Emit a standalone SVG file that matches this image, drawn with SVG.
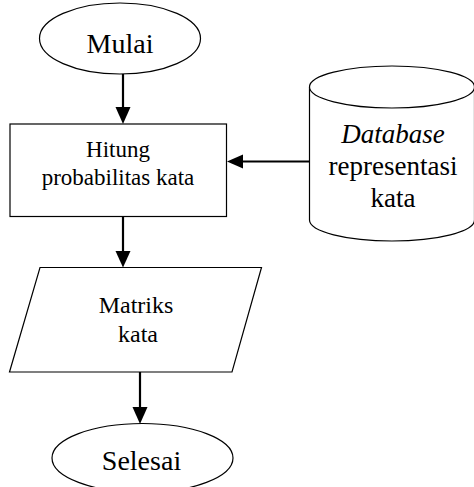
<svg xmlns="http://www.w3.org/2000/svg" width="474" height="487" viewBox="0 0 474 487">
<style>
.s{fill:#fff;stroke:#000;stroke-width:1.2}
.t{font-family:"Liberation Serif","Times New Roman",serif;fill:#000;text-anchor:middle}
.c{stroke:#000;stroke-width:2.2;fill:none}
</style>
<defs>
<marker id="ah" markerWidth="8" markerHeight="7" refX="8" refY="3.5" orient="auto" markerUnits="userSpaceOnUse" viewBox="0 0 8 7">
<path d="M0,0 L8,3.5 L0,7 Z" fill="#000"/>
</marker>
</defs>
<rect width="474" height="487" fill="#fff"/>
<g id="mulai">
<ellipse class="s" cx="120" cy="38.5" rx="80.5" ry="35.5"/>
<text class="t" x="120" y="53" font-size="28">Mulai</text>
</g>
<g id="hitung">
<rect class="s" x="10" y="124" width="216.5" height="92.5"/>
<text class="t" x="118" y="157" font-size="23">Hitung</text>
<text class="t" x="118" y="184.5" font-size="23">probabilitas kata</text>
</g>
<g id="database">
<path class="s" d="M309.5,87 L309.5,220 A82.5,21 0 0 0 474.5,220 L474.5,87"/>
<ellipse class="s" cx="392" cy="87" rx="82.5" ry="21"/>
<text class="t" x="393" y="143" font-size="27" font-style="italic">Database</text>
<text class="t" x="393" y="175" font-size="27">representasi</text>
<text class="t" x="393" y="206.5" font-size="27">kata</text>
</g>
<g id="matriks">
<polygon class="s" points="40,267.5 261.5,267.5 232,372 9.5,372"/>
<text class="t" x="136" y="313" font-size="24">Matriks</text>
<text class="t" x="138" y="341.5" font-size="24">kata</text>
</g>
<g id="selesai">
<ellipse class="s" cx="142.5" cy="458" rx="90.5" ry="34.5"/>
<text class="t" x="141.5" y="470" font-size="28">Selesai</text>
</g>
<g id="connectors">
<line class="c" x1="123" y1="74" x2="123" y2="108"/>
<path d="M115.5,107 L130.5,107 L123,124 Z" fill="#000"/>
<line class="c" x1="309.5" y1="161.5" x2="242" y2="161.5"/>
<path d="M243,154.5 L243,168.5 L227,161.5 Z" fill="#000"/>
<line class="c" x1="123" y1="217" x2="123" y2="252"/>
<path d="M115.5,251 L130.5,251 L123,267.5 Z" fill="#000"/>
<line class="c" x1="140" y1="372" x2="140" y2="408"/>
<path d="M132.5,407 L147.5,407 L140,424 Z" fill="#000"/>
</g>
</svg>
